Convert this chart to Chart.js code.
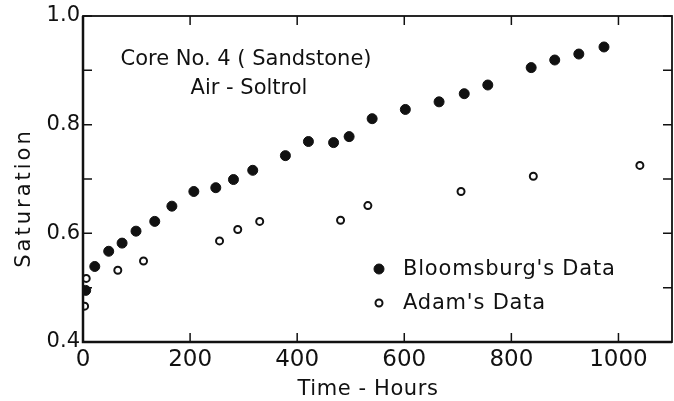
<!DOCTYPE html>
<html lang="en">
<head>
  <meta charset="UTF-8">
  <title>Core No. 4 Saturation</title>
  <script src="https://cdn.jsdelivr.net/npm/chart.js"></script>
  <style>
    html, body { margin: 0; padding: 0; background: #fff; }
  </style>
</head>
<body>
  <canvas id="satChart" width="674" height="401"></canvas>

  <script>
    // values: time in hours, saturation as a fraction
    const bloomsburgHours = [5, 22, 48, 73, 99, 134, 166, 207, 248, 281, 317, 378, 421, 468, 497, 540, 602, 665, 712, 756, 837, 881, 926, 973];
    const bloomsburgSat = [0.495, 0.539, 0.567, 0.582, 0.604, 0.622, 0.650, 0.677, 0.684, 0.699, 0.716, 0.743, 0.769, 0.767, 0.778, 0.811, 0.828, 0.842, 0.857, 0.873, 0.905, 0.919, 0.930, 0.943];
    const adamHours = [3, 6, 65, 113, 255, 289, 330, 481, 532, 706, 841, 1040];
    const adamSat = [0.466, 0.517, 0.532, 0.549, 0.586, 0.607, 0.622, 0.624, 0.651, 0.677, 0.705, 0.725];

    const xTickLabels = [0, 200, 400, 600, 800, 1000];
    const yTickLabels = ['0.4', '0.6', '0.8', '1.0'];
    const noteLines = ['Core No. 4 ( Sandstone)', 'Air - Soltrol'];
    const xTitle = 'Time - Hours';
    const yTitle = 'Saturation';

    const ink = '#111';
    const font = '"DejaVu Sans", sans-serif';

    const toPoints = (xs, ys) => xs.map((x, i) => ({ x: x, y: ys[i] }));

    // box round the plot, with inward ticks on all four sides
    const frameTicks = {
      id: 'frameTicks',
      afterDatasetsDraw(chart) {
        const { ctx, chartArea: a, scales: { x, y } } = chart;
        ctx.save();
        ctx.strokeStyle = ink;
        ctx.lineWidth = 1.8;
        ctx.strokeRect(a.left, a.top, a.right - a.left, a.bottom - a.top);
        ctx.lineWidth = 2.5;
        ctx.beginPath();
        ctx.moveTo(a.left, a.top);
        ctx.lineTo(a.left, a.bottom);
        ctx.lineTo(a.right, a.bottom);
        ctx.stroke();

        ctx.lineWidth = 1.5;
        ctx.beginPath();
        x.ticks.forEach(t => {
          const px = x.getPixelForValue(t.value);
          ctx.moveTo(px, a.bottom); ctx.lineTo(px, a.bottom - 9);
          ctx.moveTo(px, a.top); ctx.lineTo(px, a.top + 9);
        });
        y.ticks.forEach(t => {
          const py = y.getPixelForValue(t.value);
          ctx.moveTo(a.left, py); ctx.lineTo(a.left + 9, py);
          ctx.moveTo(a.right, py); ctx.lineTo(a.right - 9, py);
        });
        ctx.stroke();
        ctx.restore();
      }
    };

    // caption, key and axis titles
    const notesAndKey = {
      id: 'notesAndKey',
      afterDraw(chart) {
        const { ctx, chartArea: a } = chart;
        ctx.save();
        ctx.fillStyle = ink;
        ctx.font = '21px ' + font;
        ctx.textBaseline = 'middle';
        ctx.textAlign = 'center';
        ctx.fillText(noteLines[0], a.left + 163, a.top + 44);
        ctx.fillText(noteLines[1], a.left + 166, a.top + 73);

        ctx.textAlign = 'left';
        ctx.letterSpacing = '0.8px';
        chart.data.datasets.forEach((ds, i) => {
          const cx = a.left + 296;
          const cy = a.top + 253 + i * 34;
          ctx.beginPath();
          ctx.arc(cx, cy, ds.pointRadius, 0, Math.PI * 2);
          ctx.fillStyle = ds.backgroundColor;
          ctx.fill();
          ctx.lineWidth = ds.borderWidth;
          ctx.strokeStyle = ds.borderColor;
          ctx.stroke();
          ctx.fillStyle = ink;
          ctx.fillText(ds.label, cx + 24, cy + 1);
        });

        ctx.textAlign = 'center';
        ctx.letterSpacing = '0.6px';
        ctx.fillText(xTitle, a.left + 285, a.bottom + 48);

        ctx.letterSpacing = '3px';
        ctx.translate(25, a.top + 182);
        ctx.rotate(-Math.PI / 2);
        ctx.fillText(yTitle, 0, 0);
        ctx.restore();
      }
    };

    new Chart(document.getElementById('satChart'), {
      type: 'scatter',
      data: {
        datasets: [
          {
            label: "Bloomsburg's Data",
            data: toPoints(bloomsburgHours, bloomsburgSat),
            pointRadius: 5,
            backgroundColor: ink,
            borderColor: ink,
            borderWidth: 1
          },
          {
            label: "Adam's Data",
            data: toPoints(adamHours, adamSat),
            pointRadius: 3.5,
            backgroundColor: '#fff',
            borderColor: ink,
            borderWidth: 2
          }
        ]
      },
      options: {
        responsive: false,
        animation: false,
        devicePixelRatio: 1,
        layout: { autoPadding: false, padding: { top: 16, right: 2, left: 0, bottom: 0 } },
        plugins: {
          legend: { display: false },
          tooltip: { enabled: false }
        },
        scales: {
          x: {
            type: 'linear',
            min: 0,
            max: 1100,
            grid: { display: false, drawTicks: false },
            border: { display: false },
            ticks: {
              stepSize: 200,
              includeBounds: false,
              maxRotation: 0,
              padding: 4,
              color: ink,
              font: { family: font, size: 23 },
              callback: v => xTickLabels.includes(v) ? String(v) : ''
            },
            afterFit: s => { s.height = 59; }
          },
          y: {
            min: 0.4,
            max: 1.0,
            grid: { display: false, drawTicks: false },
            border: { display: false },
            ticks: {
              stepSize: 0.1,
              padding: 3,
              color: ink,
              font: { family: font, size: 21 },
              callback: v => {
                const s = v.toFixed(1);
                return yTickLabels.includes(s) ? s : '';
              }
            },
            afterFit: s => { s.width = 83; }
          }
        }
      },
      plugins: [frameTicks, notesAndKey]
    });
  </script>
</body>
</html>
